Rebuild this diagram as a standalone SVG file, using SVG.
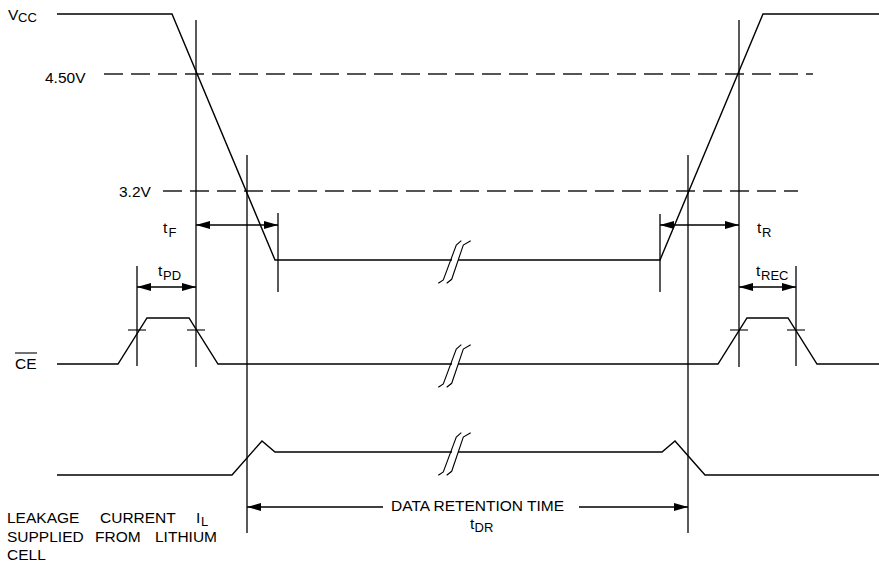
<svg xmlns="http://www.w3.org/2000/svg" xmlns:xlink="http://www.w3.org/1999/xlink" width="879" height="566" viewBox="0 0 879 566">
<style>
  .sig { fill: none; stroke: #000; stroke-width: 1.4; stroke-linejoin: miter; }
  .ref { fill: none; stroke: #000; stroke-width: 1.3; }
  .dash { fill: none; stroke: #555; stroke-width: 1.8; stroke-dasharray: 19 8; }
  .tick { fill: none; stroke: #000; stroke-width: 1.1; }
  .dim { fill: none; stroke: #000; stroke-width: 1.3; }
  .brk { fill: none; stroke: #000; stroke-width: 1.1; }
  text { font-family: "Liberation Sans", Arial, sans-serif; fill: #000; }
  .lbl { font-size: 15.5px; }
  .sub { font-size: 13px; }
</style>
<defs>
  <marker id="ah" viewBox="0 0 14 8" refX="14" refY="4" markerWidth="14" markerHeight="8" markerUnits="userSpaceOnUse" orient="auto-start-reverse">
    <path d="M0,0 L14,4 L0,8 Z" fill="#000"/>
  </marker>
  <g id="break">
    <path class="brk" d="M-16.7,23.3 L-11.7,20 L1.3,-15 L6.3,-19.3"/>
    <path class="brk" d="M-8.3,23.3 L-3.3,19.3 L8.3,-15 L15.7,-19.3"/>
  </g>
</defs>

<g id="thresholds">
  <line class="dash" x1="104" y1="74" x2="813" y2="74"/>
  <line class="dash" x1="163" y1="191" x2="798" y2="191"/>
</g>

<g id="labels">
  <text class="lbl" x="8" y="20">V</text><text class="sub" x="18" y="22">CC</text>
  <text class="lbl" x="45" y="83">4.50V</text>
  <text class="lbl" x="119" y="197">3.2V</text>
  <text class="lbl" x="15" y="369">CE</text>
  <line x1="15" y1="353" x2="37" y2="353" stroke="#000" stroke-width="1.1"/>
</g>

<g id="vcc-signal">
  <path class="sig" d="M57,14 L172,14 L275,260 L452,260"/>
  <path class="sig" d="M458,260 L660,260 L763,14 L879,14"/>
  <use xlink:href="#break" href="#break" x="455" y="260"/>
</g>

<g id="ce-signal">
  <path class="sig" d="M57,364 L118,364 L147,318 L189,318 L218,364 L452,364"/>
  <path class="sig" d="M458,364 L718,364 L747,318 L788,318 L817,364 L879,364"/>
  <use xlink:href="#break" href="#break" x="455" y="364"/>
</g>

<g id="leakage-signal">
  <path class="sig" d="M57,475 L232,475 L262,441 L275,452 L452,452"/>
  <path class="sig" d="M458,452 L662,452 L675,441 L705,475 L879,475"/>
  <use xlink:href="#break" href="#break" x="455" y="452"/>
</g>

<g id="reference-lines">
  <line class="ref" x1="196" y1="20" x2="196" y2="367"/>
  <line class="ref" x1="739" y1="20" x2="739" y2="367"/>
  <line class="ref" x1="247" y1="155" x2="247" y2="533"/>
  <line class="ref" x1="688" y1="155" x2="688" y2="533"/>
  <line class="ref" x1="278" y1="213" x2="278" y2="292"/>
  <line class="ref" x1="660" y1="214" x2="660" y2="292"/>
  <line class="ref" x1="137" y1="266" x2="137" y2="366"/>
  <line class="ref" x1="796" y1="266" x2="796" y2="366"/>
  <line class="tick" x1="128" y1="330" x2="146" y2="330"/>
  <line class="tick" x1="187" y1="330" x2="205" y2="330"/>
  <line class="tick" x1="730" y1="330" x2="748" y2="330"/>
  <line class="tick" x1="787" y1="330" x2="805" y2="330"/>
</g>

<g id="connectors">
  <line class="dim" x1="196" y1="225" x2="278" y2="225" marker-start="url(#ah)" marker-end="url(#ah)"/>
  <line class="dim" x1="660" y1="225" x2="739" y2="225" marker-start="url(#ah)" marker-end="url(#ah)"/>
  <line class="dim" x1="137" y1="287" x2="196" y2="287" marker-start="url(#ah)" marker-end="url(#ah)"/>
  <line class="dim" x1="739" y1="287" x2="796" y2="287" marker-start="url(#ah)" marker-end="url(#ah)"/>
  <line class="dim" x1="383" y1="507" x2="247" y2="507" marker-end="url(#ah)"/>
  <line class="dim" x1="579" y1="507" x2="688" y2="507" marker-end="url(#ah)"/>
</g>

<g id="timing-labels">
  <text class="lbl" x="163" y="233">t</text><text class="sub" x="168.5" y="237">F</text>
  <text class="lbl" x="158" y="276">t</text><text class="sub" x="163" y="280">PD</text>
  <text class="lbl" x="757" y="233">t</text><text class="sub" x="762" y="237">R</text>
  <text class="lbl" x="756" y="276">t</text><text class="sub" x="761" y="280">REC</text>
  <text class="lbl" x="391" y="511">DATA RETENTION TIME</text>
  <text class="lbl" x="470" y="529">t</text><text class="sub" x="474.5" y="532">DR</text>
</g>

<g id="leakage-note">
  <text class="lbl" x="7" y="523">LEAKAGE</text>
  <text class="lbl" x="100" y="523">CURRENT</text>
  <text class="lbl" x="196" y="523">I</text><text class="sub" x="201" y="526">L</text>
  <text class="lbl" x="7" y="542">SUPPLIED</text>
  <text class="lbl" x="95" y="542">FROM</text>
  <text class="lbl" x="155" y="542">LITHIUM</text>
  <text class="lbl" x="7" y="560">CELL</text>
</g>
</svg>
